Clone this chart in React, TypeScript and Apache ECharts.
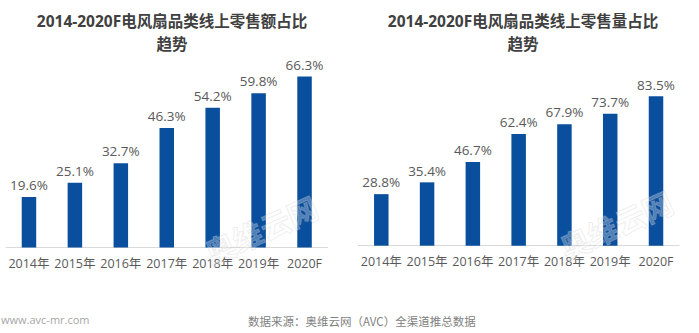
import React, { useEffect, useRef } from "react";
import * as echarts from "echarts";

const categories = ["2014年", "2015年", "2016年", "2017年", "2018年", "2019年", "2020F"];
const salesShare = [19.6, 25.1, 32.7, 46.3, 54.2, 59.8, 66.3];
const volumeShare = [28.8, 35.4, 46.7, 62.4, 67.9, 73.7, 83.5];
const leftTitle = "2014-2020F电风扇品类线上零售额占比\n趋势";
const rightTitle = "2014-2020F电风扇品类线上零售量占比\n趋势";
const sourceText = "数据来源：奥维云网（AVC）全渠道推总数据";
const siteText = "www.avc-mr.com";

const FONT = "'Open Sans', 'Noto Sans CJK SC', sans-serif";
const BAR = "#0A4F9E";

export default function App() {
  const ref = useRef<HTMLDivElement>(null);
  useEffect(() => {
    if (!ref.current) return;
    const chart = echarts.init(ref.current, undefined, { renderer: "svg" });
    const xAxisCommon = {
      type: "category" as const,
      data: categories,
      axisLine: { show: true, lineStyle: { color: "#d9d9d9", width: 1 } },
      axisTick: { show: false },
      axisLabel: { color: "#595959", fontSize: 12.5, fontFamily: FONT, margin: 10, interval: 0 },
    };
    const yAxisCommon = {
      type: "value" as const,
      min: 0,
      show: false,
      splitLine: { show: false },
    };
    const labelCommon = {
      show: true,
      position: "top" as const,
      distance: 5,
      color: "#595959",
      fontSize: 13.5,
      fontFamily: FONT,
      formatter: (p: any) => p.value.toFixed(1) + "%",
    };
    const titleStyle = { fontSize: 15.5, fontWeight: "bold" as const, color: "#404040", fontFamily: FONT, lineHeight: 23 };
    chart.setOption({
      animation: false,
      backgroundColor: "#ffffff",
      title: [
        { text: leftTitle, left: 167, top: 4, textAlign: "center", textStyle: titleStyle },
        { text: rightTitle, left: 518, top: 4, textAlign: "center", textStyle: titleStyle },
      ],
      grid: [
        { left: 6, width: 321.5, bottom: 85.5, height: 180.6 },
        { left: 358.4, width: 320.5, bottom: 87.3, height: 179 },
      ],
      xAxis: [
        { ...xAxisCommon, gridIndex: 0 },
        { ...xAxisCommon, gridIndex: 1 },
      ],
      yAxis: [
        { ...yAxisCommon, gridIndex: 0, max: 70 },
        { ...yAxisCommon, gridIndex: 1, max: 100 },
      ],
      series: [
        {
          type: "bar",
          xAxisIndex: 0,
          yAxisIndex: 0,
          data: salesShare,
          barWidth: 14.5,
          itemStyle: { color: BAR },
          label: labelCommon,
        },
        {
          type: "bar",
          xAxisIndex: 1,
          yAxisIndex: 1,
          data: volumeShare,
          barWidth: 14.5,
          itemStyle: { color: BAR },
          label: labelCommon,
        },
      ],
      graphic: [
        {
          type: "text",
          x: 248,
          y: 315,
          style: { text: sourceText, fill: "#7f7f7f", fontSize: 11.5, fontFamily: "'Noto Sans CJK SC', sans-serif" },
          z: 10,
        },
        {
          type: "text",
          x: 1,
          y: 314,
          style: { text: siteText, fill: "#a6a6a6", fontSize: 11, fontFamily: FONT },
          z: 10,
        },
        {
          type: "text",
          x: 200,
          y: 240,
          rotation: 0.42,
          style: { text: "奥维云网", fill: "rgba(255,255,255,0.3)", stroke: "rgba(190,190,190,0.3)", lineWidth: 1, fontSize: 30, fontWeight: "bold", fontFamily: "'Noto Sans CJK SC', sans-serif" },
          z: 20,
        },
        {
          type: "text",
          x: 555,
          y: 235,
          rotation: 0.42,
          style: { text: "奥维云网", fill: "rgba(255,255,255,0.3)", stroke: "rgba(190,190,190,0.3)", lineWidth: 1, fontSize: 30, fontWeight: "bold", fontFamily: "'Noto Sans CJK SC', sans-serif" },
          z: 20,
        },
      ],
    });
    return () => chart.dispose();
  }, []);
  return <div ref={ref} style={{ width: 699, height: 333, position: "absolute", left: 0, top: 0 }} />;
}
